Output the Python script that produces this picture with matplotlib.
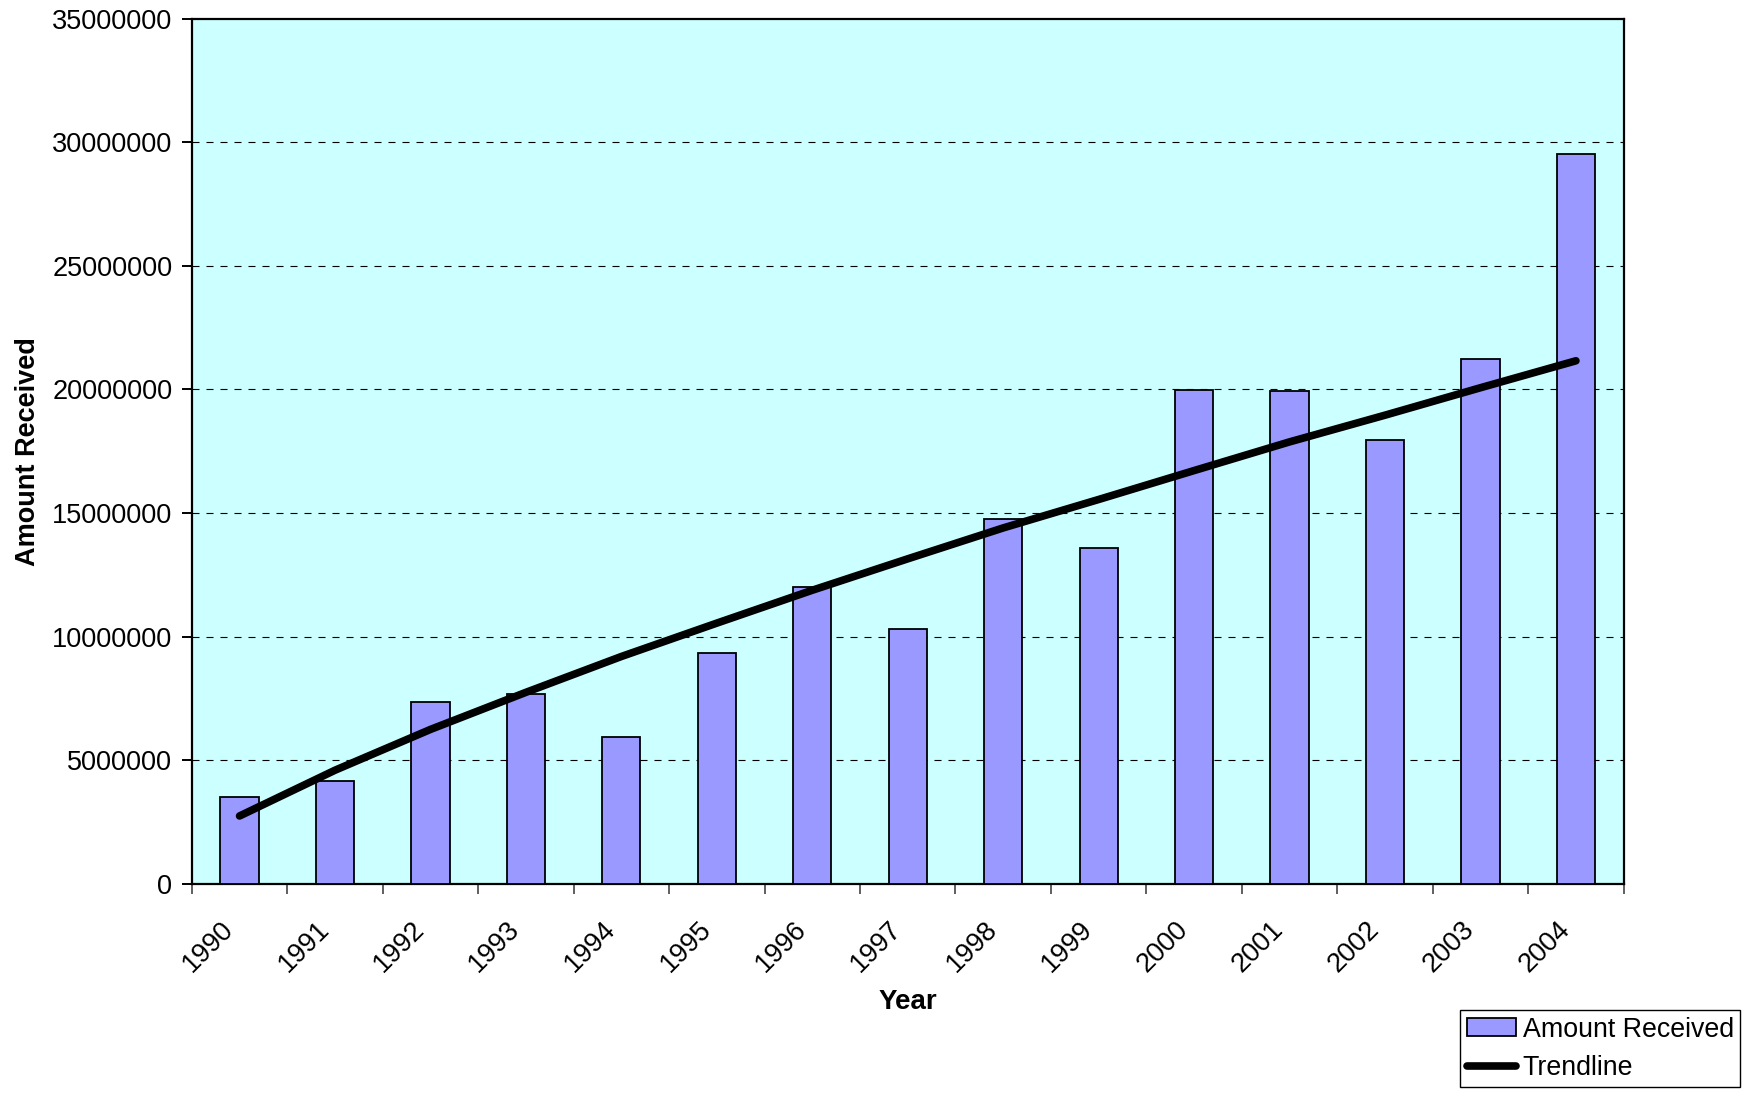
import matplotlib
matplotlib.use("Agg")
import matplotlib.pyplot as plt
import matplotlib.transforms as mtransforms
import numpy as np
from matplotlib.ticker import FuncFormatter, MultipleLocator

plt.rcParams['font.family'] = ['Liberation Sans', 'DejaVu Sans']

years = ['1990', '1991', '1992', '1993', '1994', '1995', '1996', '1997',
         '1998', '1999', '2000', '2001', '2002', '2003', '2004']
amount = [3500000, 4180000, 7340000, 7690000, 5930000, 9360000, 12010000, 10300000,
          14750000, 13590000, 19970000, 19930000, 17960000, 21240000, 29530000]
# fitted trend, one value per year
trend = [2750000, 4600000, 6250000, 7750000, 9200000, 10550000, 11880000, 13150000,
         14400000, 15550000, 16720000, 17880000, 18960000, 20070000, 21160000]

fig = plt.figure(figsize=(17.44, 10.94), dpi=100)
ax = fig.add_axes([0.110, 0.192, 0.821, 0.791])
ax.set_facecolor('#CCFFFF')

x = np.arange(len(years))
bars = ax.bar(x, amount, width=0.40, color='#9999FF', edgecolor='black', linewidth=1.3,
              label='Amount Received', zorder=3)
line, = ax.plot(x, trend, color='black', linewidth=5.5, solid_capstyle='round',
                solid_joinstyle='round', label='Trendline', zorder=4)

ax.set_xlim(-0.5, len(years) - 0.5)
ax.set_ylim(0, 35000000)

# tick marks sit between categories, labels in the middle
ax.set_xticks(np.arange(-0.5, len(years), 1.0))
ax.set_xticklabels([])
ax.set_xticks(x, minor=True)
ax.set_xticklabels(years, minor=True, rotation=45, ha='right', va='top',
                   rotation_mode='anchor', fontsize=19.5)
ax.tick_params(axis='x', which='minor', length=0, pad=23)
ax.tick_params(axis='x', which='major', length=7, width=1.2, color='#444444')
shift = mtransforms.ScaledTranslation(-19 / 100, 0, fig.dpi_scale_trans)
for lab in ax.get_xticklabels(minor=True):
    lab.set_transform(lab.get_transform() + shift)

ax.yaxis.set_major_locator(MultipleLocator(5000000))
ax.yaxis.set_major_formatter(FuncFormatter(lambda v, p: '%d' % v))
ax.tick_params(axis='y', length=7, width=1.4, labelsize=19.5, pad=7)

for v in range(5000000, 35000000, 5000000):
    ax.axhline(v, color='black', linestyle=(0, (6.3, 6.3)), linewidth=0.8, zorder=1)

for s in ax.spines.values():
    s.set_linewidth(1.6)
    s.set_color('black')

ax.set_xlabel('Year', fontsize=20, fontweight='bold', va='top')
ax.xaxis.set_label_coords(0.5, -0.121)
ax.set_ylabel('Amount Received', fontsize=19.5, fontweight='bold')
ax.yaxis.set_label_coords(-0.105, 0.5)

leg = fig.legend([bars, line], ['Amount Received', 'Trendline'],
                 loc='upper left', bbox_to_anchor=(0.8372, 0.0768), fontsize=19.3,
                 frameon=True, fancybox=False, edgecolor='black', framealpha=1,
                 handlelength=1.83, handleheight=0.63, handletextpad=0.25,
                 borderpad=0.25, labelspacing=0.45, borderaxespad=0)
leg.get_frame().set_linewidth(1.0)

fig.savefig('out.png', dpi=100)
